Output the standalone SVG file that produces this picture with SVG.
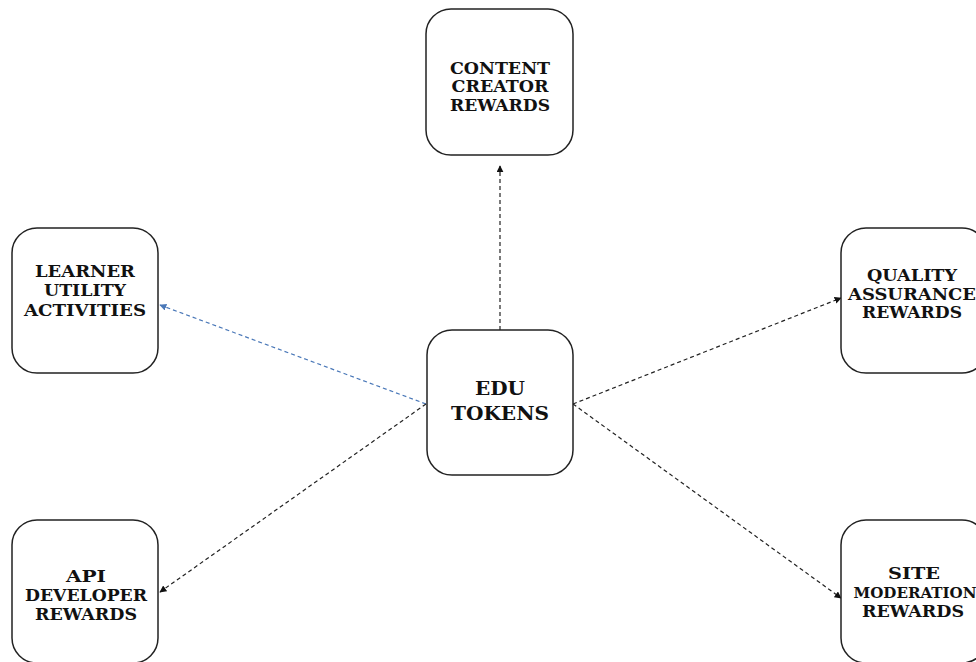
<svg xmlns="http://www.w3.org/2000/svg" width="976" height="662" viewBox="0 0 976 662">
<style>
.box{fill:#fff;stroke:#222;stroke-width:1.5}
.t{font-family:"DejaVu Serif","Liberation Serif",serif;font-weight:bold;font-size:16px;fill:#111;text-anchor:middle}
.big{font-size:19px}
.c{fill:none;stroke:#222;stroke-width:1.2;stroke-dasharray:4 3}
.b{fill:none;stroke:#4a78b8;stroke-width:1.2;stroke-dasharray:4 3}
</style>
<defs>
<marker id="ah" viewBox="0 0 10 10" refX="9" refY="5" markerWidth="7" markerHeight="7" orient="auto" markerUnits="userSpaceOnUse">
<path d="M0,0 L10,5 L0,10 z" fill="#111"/>
</marker>
<marker id="ahb" viewBox="0 0 10 10" refX="9" refY="5" markerWidth="7" markerHeight="7" orient="auto" markerUnits="userSpaceOnUse">
<path d="M0,0 L10,5 L0,10 z" fill="#4a78b8"/>
</marker>
</defs>
<rect width="976" height="662" fill="#fff"/>
<g id="connectors">
<line class="c" x1="500" y1="330" x2="500" y2="166" marker-end="url(#ah)"/>
<line class="b" x1="426" y1="404" x2="160" y2="305" marker-end="url(#ahb)"/>
<line class="c" x1="573" y1="404" x2="841" y2="298" marker-end="url(#ah)"/>
<line class="c" x1="573" y1="404" x2="841" y2="598" marker-end="url(#ah)"/>
<line class="c" x1="426" y1="404" x2="160" y2="592" marker-end="url(#ah)"/>
</g>
<g id="content-creator">
<rect class="box" x="426" y="9" width="147" height="146" rx="25"/>
<text class="t" x="500" y="73.5" textLength="100" lengthAdjust="spacingAndGlyphs">CONTENT</text>
<text class="t" x="500" y="92" textLength="97" lengthAdjust="spacingAndGlyphs">CREATOR</text>
<text class="t" x="500" y="110.5" textLength="100" lengthAdjust="spacingAndGlyphs">REWARDS</text>
</g>
<g id="learner">
<rect class="box" x="12" y="228" width="146" height="145" rx="25"/>
<text class="t" x="85" y="277" textLength="100" lengthAdjust="spacingAndGlyphs">LEARNER</text>
<text class="t" x="85" y="296" textLength="82" lengthAdjust="spacingAndGlyphs">UTILITY</text>
<text class="t" x="85" y="315.5" textLength="122" lengthAdjust="spacingAndGlyphs">ACTIVITIES</text>
</g>
<g id="edu-tokens">
<rect class="box" x="427" y="330" width="146" height="145" rx="25"/>
<text class="t big" x="500" y="395" textLength="50" lengthAdjust="spacingAndGlyphs">EDU</text>
<text class="t big" x="500" y="419.5" textLength="98" lengthAdjust="spacingAndGlyphs">TOKENS</text>
</g>
<g id="quality">
<rect class="box" x="841" y="228" width="146" height="145" rx="25"/>
<text class="t" x="912" y="281" textLength="90" lengthAdjust="spacingAndGlyphs">QUALITY</text>
<text class="t" x="912" y="299.5" textLength="128" lengthAdjust="spacingAndGlyphs">ASSURANCE</text>
<text class="t" x="912" y="318" textLength="100" lengthAdjust="spacingAndGlyphs">REWARDS</text>
</g>
<g id="api">
<rect class="box" x="12" y="520" width="146" height="143" rx="25"/>
<text class="t" x="86" y="582" textLength="40" lengthAdjust="spacingAndGlyphs">API</text>
<text class="t" x="86" y="601" textLength="122" lengthAdjust="spacingAndGlyphs">DEVELOPER</text>
<text class="t" x="86" y="620" textLength="102" lengthAdjust="spacingAndGlyphs">REWARDS</text>
</g>
<g id="site">
<rect class="box" x="841" y="520" width="146" height="143" rx="25"/>
<text class="t" x="914" y="578.5" textLength="52" lengthAdjust="spacingAndGlyphs">SITE</text>
<text class="t" x="915" y="597.5" style="font-size:14px" textLength="123" lengthAdjust="spacingAndGlyphs">MODERATION</text>
<text class="t" x="913" y="617" textLength="102" lengthAdjust="spacingAndGlyphs">REWARDS</text>
</g>
</svg>
